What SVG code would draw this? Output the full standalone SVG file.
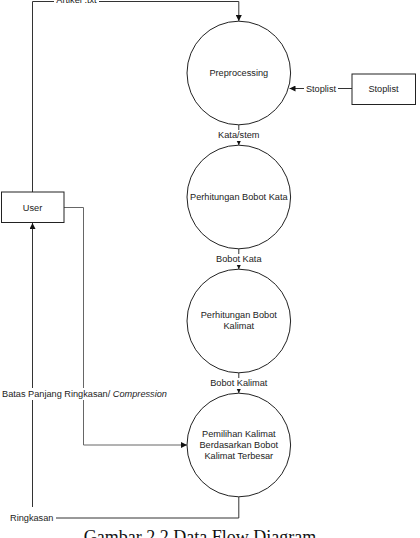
<svg xmlns="http://www.w3.org/2000/svg" width="420" height="538" viewBox="0 0 420 538">
<defs>
<style>
.t{font-family:"Liberation Sans",Arial,sans-serif;font-size:9.2px;fill:#222;text-anchor:middle;dominant-baseline:central}
.n{fill:#fff;stroke:#222;stroke-width:1}
.c{fill:none;stroke:#333;stroke-width:1}
.bg{fill:#fff}
</style>
<marker id="a" viewBox="0 0 10 10" refX="10" refY="5" markerWidth="6" markerHeight="6" markerUnits="userSpaceOnUse" orient="auto">
<path d="M0,0 L10,5 L0,10 z" fill="#111"/>
</marker>
</defs>
<rect width="420" height="538" fill="#fff"/>
<g id="connectors">
<path class="c" d="M32.5,192 V1.5 H238.8 V21" marker-end="url(#a)"/>
<path class="c" d="M352,88.5 H289.5" marker-end="url(#a)"/>
<path class="c" d="M238.8,125 V145" marker-end="url(#a)"/>
<path class="c" d="M238.8,249 V269" marker-end="url(#a)"/>
<path class="c" d="M238.8,373 V393" marker-end="url(#a)"/>
<path class="c" d="M64,207.5 H83.5 V445 H187" marker-end="url(#a)" style="stroke:#666"/>
<path class="c" d="M238.8,497 V518 H32.5 V223" marker-end="url(#a)"/>
<rect class="bg" x="54" y="-5" width="45" height="10"/>
<text class="t" x="76.5" y="0">Artikel .txt</text>
<rect class="bg" x="304" y="83" width="34" height="11"/>
<text class="t" x="321" y="88.5">Stoplist</text>
<rect class="bg" x="218" y="130" width="42" height="11"/>
<text class="t" x="238.8" y="135.3">Kata/stem</text>
<rect class="bg" x="215" y="254" width="48" height="11"/>
<text class="t" x="238.8" y="259">Bobot Kata</text>
<rect class="bg" x="209" y="378" width="60" height="11"/>
<text class="t" x="238.8" y="383">Bobot Kalimat</text>
<rect class="bg" x="1" y="388" width="167" height="12"/>
<text class="t" x="2" y="394" style="text-anchor:start">Batas Panjang Ringkasan/ <tspan font-style="italic">Compression</tspan></text>
<rect class="bg" x="8" y="507" width="48" height="20"/>
<text class="t" x="10" y="518" style="text-anchor:start">Ringkasan</text>
</g>
<g id="user">
<rect class="n" x="1.5" y="192" width="62.5" height="30.5"/>
<text class="t" x="32.5" y="207.5">User</text>
</g>
<g id="stoplist">
<rect class="n" x="352" y="74" width="63.5" height="30.5"/>
<text class="t" x="383.5" y="89">Stoplist</text>
</g>
<g id="preprocessing">
<circle class="n" cx="238.8" cy="73" r="51.8"/>
<text class="t" x="238.8" y="73">Preprocessing</text>
</g>
<g id="bobot-kata">
<circle class="n" cx="238.8" cy="197" r="51.8"/>
<text class="t" x="238.8" y="197">Perhitungan Bobot Kata</text>
</g>
<g id="bobot-kalimat">
<circle class="n" cx="238.8" cy="321" r="51.8"/>
<text class="t" x="238.8" y="315">Perhitungan Bobot</text>
<text class="t" x="238.8" y="326">Kalimat</text>
</g>
<g id="pemilihan">
<circle class="n" cx="238.8" cy="445" r="51.8"/>
<text class="t" x="238.8" y="433.5">Pemilihan Kalimat</text>
<text class="t" x="238.8" y="444.5">Berdasarkan Bobot</text>
<text class="t" x="238.8" y="455.5">Kalimat Terbesar</text>
</g>
<text x="200" y="543" style="font-family:'Liberation Serif','Times New Roman',serif;font-size:18px;fill:#111;text-anchor:middle">Gambar 2.2 Data Flow Diagram</text>
</svg>
